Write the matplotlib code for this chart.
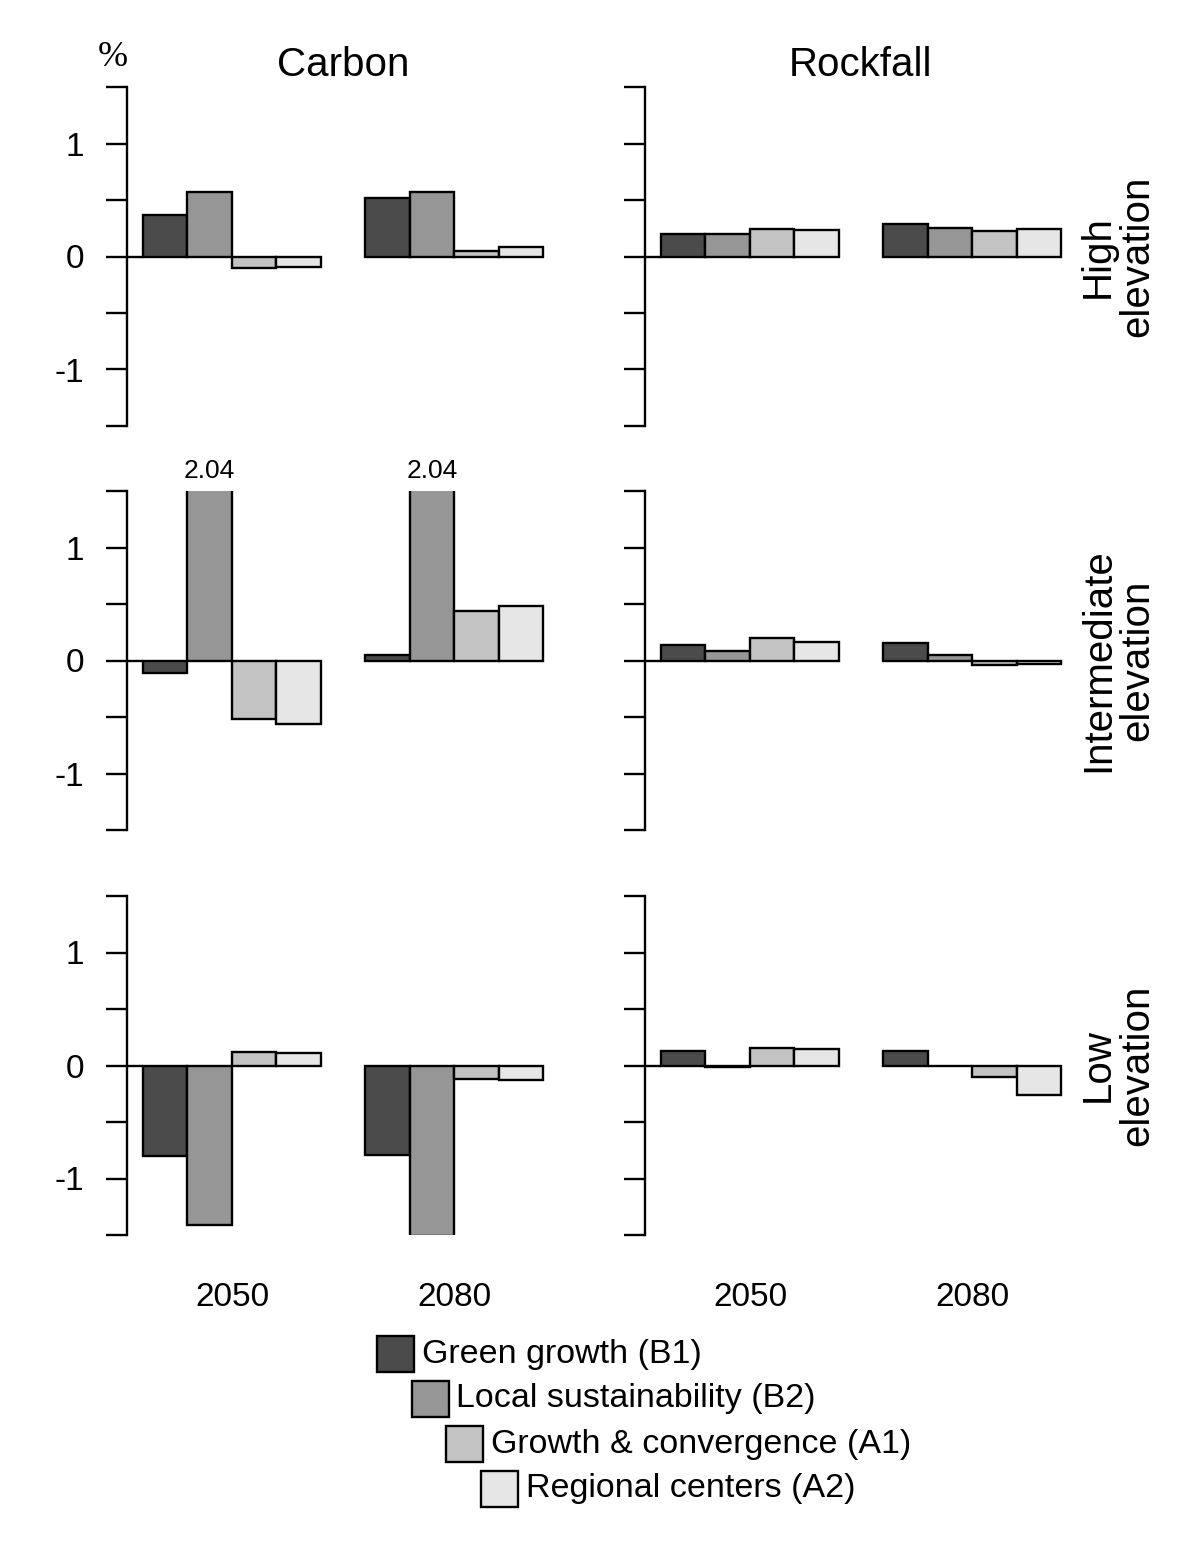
import numpy as np
import matplotlib.pyplot as plt
from matplotlib.patches import Rectangle

plt.rcParams['font.family'] = ['Liberation Sans', 'DejaVu Sans']

# scenarios / colours
scenarios = ['Green growth (B1)', 'Local sustainability (B2)',
             'Growth & convergence (A1)', 'Regional centers (A2)']
colors = ['#4b4b4b', '#969696', '#c3c3c3', '#e6e6e6']
years = ['2050', '2080']
elevations = ['High\nelevation', 'Intermediate\nelevation', 'Low\nelevation']
columns = ['Carbon', 'Rockfall']

# % change, [2050 values, 2080 values], order B1 B2 A1 A2
carbon_high = [[0.37, 0.57, -0.10, -0.09], [0.52, 0.57, 0.05, 0.08]]
carbon_mid = [[-0.11, 2.04, -0.52, -0.56], [0.05, 2.04, 0.44, 0.48]]
carbon_low = [[-0.80, -1.41, 0.12, 0.11], [-0.79, -1.51, -0.12, -0.13]]
rock_high = [[0.20, 0.20, 0.245, 0.235], [0.29, 0.25, 0.23, 0.24]]
rock_mid = [[0.14, 0.08, 0.20, 0.16], [0.155, 0.045, -0.04, -0.035]]
rock_low = [[0.125, -0.01, 0.155, 0.15], [0.125, -0.005, -0.10, -0.265]]

panels = [[carbon_high, rock_high],
          [carbon_mid, rock_mid],
          [carbon_low, rock_low]]

W, H = 1200, 1543
fig = plt.figure(figsize=(W / 100, H / 100), dpi=100)

def px(x, y):
    return x / W, 1 - y / H

col_left = [127, 645]
row_top = [87, 491, 896]
ax_w = 443
ax_h = 339
ymax = 1.5
lw = 1.7

for r in range(3):
    for c in range(2):
        left, bottom = px(col_left[c], row_top[r] + ax_h)
        ax = fig.add_axes([left, bottom, ax_w / W, ax_h / H])
        data = np.array(panels[r][c])
        for g in range(len(years)):
            xs = 5 * g + np.arange(4)
            ax.bar(xs, data[g], width=1, align='edge', color=colors,
                   edgecolor='black', linewidth=lw)
            for i, v in enumerate(data[g]):
                if v > ymax:
                    ax.annotate(f'{v:.2f}', (xs[i] + 0.5, ymax),
                                xytext=(0, 9), textcoords='offset points',
                                ha='center', va='baseline', fontsize=19,
                                annotation_clip=False)
        ax.set_xlim(-0.36, 9.6)
        ax.set_ylim(-1.5, 1.5)
        ax.hlines(0, -0.36, 0, color='black', linewidth=lw)
        ax.set_yticks(np.arange(-1.5, 1.51, 0.5))
        if c == 0:
            ax.set_yticklabels(['', '-1', '', '0', '', '1', ''])
        else:
            ax.set_yticklabels([])
        ax.tick_params(axis='y', length=15, width=lw, pad=16, labelsize=24)
        ax.set_xticks([])
        for s in ['top', 'right', 'bottom']:
            ax.spines[s].set_visible(False)
        ax.spines['left'].set_linewidth(lw)
        ax.patch.set_alpha(0)

# column titles and % label
fig.text(*px(343, 65), columns[0], ha='center', va='center', fontsize=29)
fig.text(*px(861, 65), columns[1], ha='center', va='center', fontsize=29)
fig.text(*px(113, 57), '%', ha='center', va='center', fontsize=26,
         family='Liberation Serif')

# row labels
for r, lab in enumerate(elevations):
    fig.text(*px(1118, row_top[r] + ax_h / 2), lab, rotation=90,
             ha='center', va='center', multialignment='center',
             fontsize=29, linespacing=1.05)

# year labels
for c in range(2):
    for g, yr in enumerate(years):
        xc = col_left[c] + 16 + (5 * g + 2) * 44.5
        fig.text(*px(xc, 1297), yr, ha='center', va='center', fontsize=24)

# staggered legend
for i, (lab, col) in enumerate(zip(scenarios, colors)):
    bx = 377 + 34.5 * i
    by = 1336 + 45 * i
    x0, y0 = px(bx, by + 36)
    fig.add_artist(Rectangle((x0, y0), 37 / W, 36 / H, transform=fig.transFigure,
                             facecolor=col, edgecolor='black', linewidth=lw))
    fig.text(*px(bx + 37 + 8, by + 18), lab, ha='left', va='center',
             fontsize=24.5)

fig.savefig('out.png', dpi=100)
